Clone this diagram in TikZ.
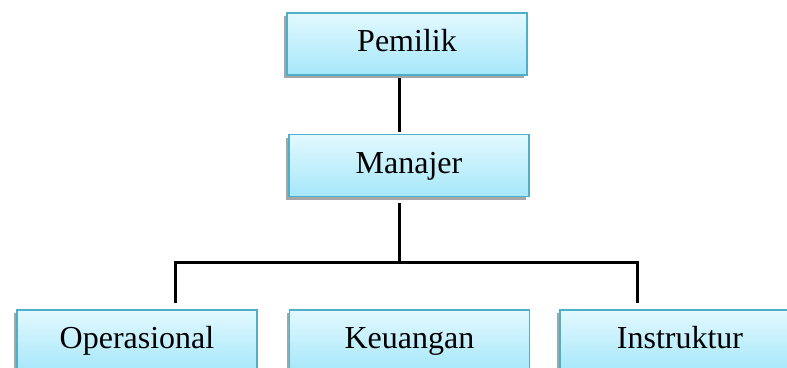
\documentclass[tikz,border=0pt]{standalone}
\usepackage{fontspec}
\setmainfont{Liberation Serif}
\usetikzlibrary{shadows}
\definecolor{boxtop}{HTML}{E3F9FF}
\definecolor{boxbot}{HTML}{A5E7FA}
\definecolor{boxline}{HTML}{4FAFC8}
\tikzset{
  unit/.style = {draw = boxline, line width = 1.5pt, top color = boxtop, bottom color = boxbot,
    minimum width = 240pt, minimum height = 62pt, inner sep = 0pt,
    text height = 22pt, text depth = 7pt,
    font = \fontsize{32}{38}\selectfont,
    drop shadow = {shadow xshift = -3pt, shadow yshift = -3pt, fill = black, opacity = 0.35}},
  link/.style = {line width = 3pt, shorten <= 2pt, shorten >= 2pt}
}
\begin{document}
\begin{tikzpicture}[x = 1pt, y = -1pt]
						\clip (0, 0) rectangle (787, 367);
						\fill[white] (0, 0) rectangle (787, 367);
						\node[unit] (pem) at (407, 44) {Pemilik};
						\node[unit] (man) at (409, 165.5) {Manajer};
						\node[unit] (ops) at (137, 341) {Operasional};
						\node[unit] (keu) at (409.5, 341) {Keuangan};
						\node[unit] (ins) at (680, 341) {Instruktur};
						\coordinate (hub) at (399, 262);
						\coordinate (left) at (175, 262);
						\coordinate (right) at (637, 262);
						\draw[link] (pem.south -| hub) -- (man.north -| hub);
						\draw[link, shorten <= 6pt, shorten >= 0pt] (man.south -| hub) -- (hub);
						\draw[link, shorten <= 6pt, shorten >= 6pt] (ops.north -| left) -- (left) -- (right) -- (ins.north -| right);
					\end{tikzpicture}
\end{document}
